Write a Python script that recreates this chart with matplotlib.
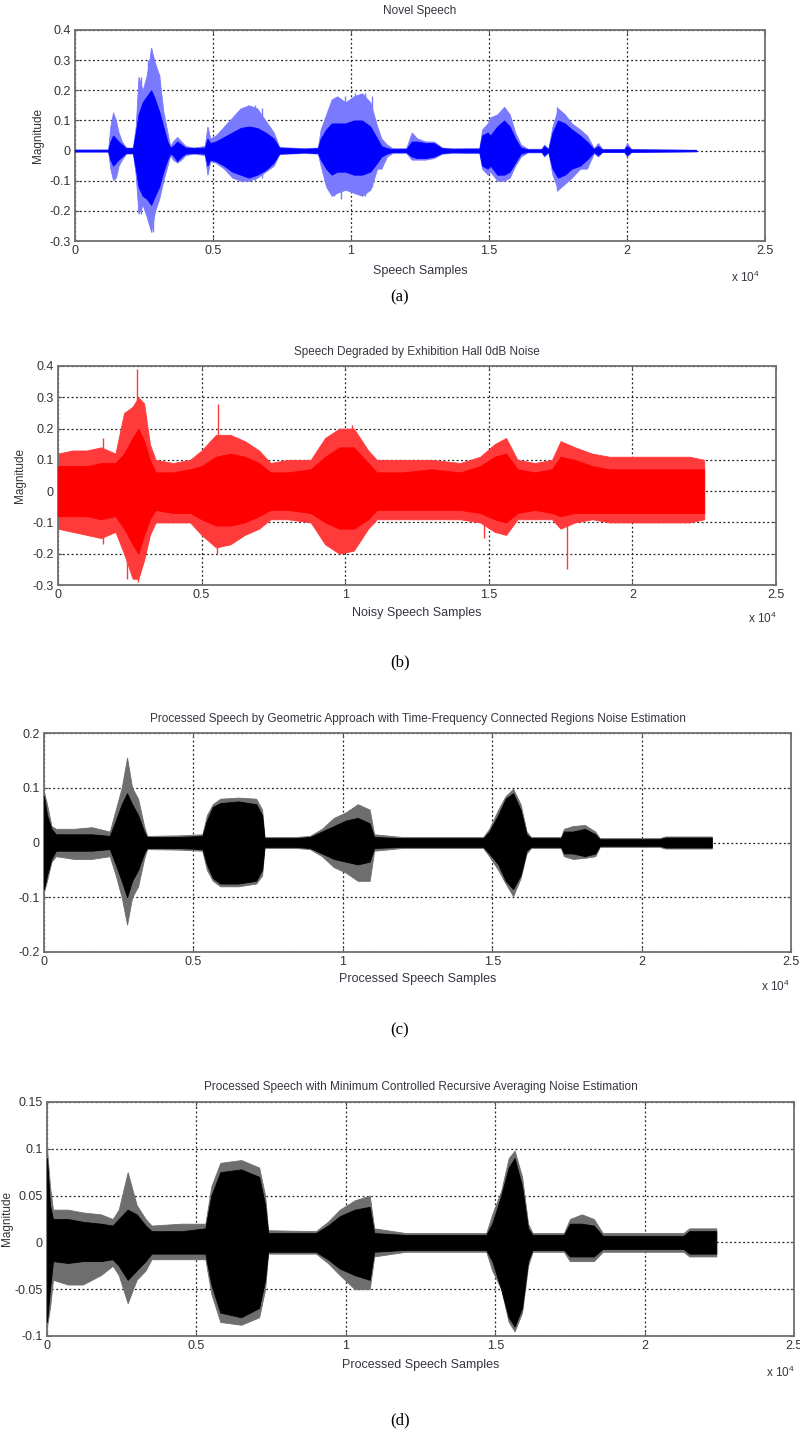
import matplotlib
matplotlib.use("Agg")
import matplotlib.pyplot as plt

plt.rcParams['font.family'] = ['Liberation Sans Narrow', 'Liberation Sans', 'DejaVu Sans']
plt.rcParams['mathtext.default'] = 'regular'

W, H = 800, 1435

# ---------------- data (samples, magnitude envelopes) -------------
a_x = [0, 1200, 1280, 1380, 1480, 1580, 1700, 1850, 2100, 2200, 2300, 2450, 2600, 2760, 2900,
       3050, 3200, 3350, 3450, 3550, 3700, 3850, 4000, 4300, 4700, 4800, 4900, 5100, 5400, 5700,
       6000, 6300, 6600, 6900, 7200, 7400, 7800, 8300, 8800, 8900, 9100, 9300, 9500, 9800, 10100,
       10400, 10700, 10950, 11100, 11300, 11500, 12000, 12200, 12400, 12700, 13000, 13300, 13700,
       14200, 14650, 14750, 14950, 15050, 15300, 15550, 15750, 15950, 16150, 16400, 16900, 17000,
       17150, 17300, 17500, 17750, 18000, 18300, 18550, 18800, 18950, 19100, 19900, 20000, 20150,
       22500]
a_core_hi = [.003, .003, .03, .05, .04, .03, .02, .008, .008, .06, .12, .16, .18, .20, .17,
             .13, .08, .03, .01, .015, .03, .02, .01, .008, .01, .04, .025, .03, .045, .06,
             .075, .08, .075, .06, .04, .01, .008, .006, .008, .04, .07, .09, .09, .09, .10,
             .10, .08, .04, .015, .008, .005, .005, .03, .03, .025, .025, .008, .005,
             .006, .006, .05, .06, .05, .08, .10, .08, .04, .01, .004, .004, .015,
             .004, .06, .10, .09, .07, .05, .03, .005, .015, .004, .004, .015, .004,
             .002]
a_core_lo = [-.003, -.003, -.03, -.05, -.04, -.03, -.02, -.008, -.008, -.06, -.12, -.15, -.16, -.18, -.15,
             -.12, -.07, -.03, -.01, -.015, -.035, -.02, -.01, -.008, -.01, -.05, -.03, -.035, -.05, -.07,
             -.08, -.09, -.08, -.065, -.04, -.01, -.008, -.006, -.008, -.03, -.06, -.08, -.07, -.07, -.08,
             -.08, -.07, -.04, -.02, -.01, -.005, -.005, -.02, -.025, -.025, -.02, -.008, -.005,
             -.006, -.006, -.05, -.06, -.05, -.08, -.08, -.07, -.04, -.01, -.004, -.004, -.015,
             -.004, -.06, -.09, -.08, -.06, -.05, -.03, -.005, -.015, -.004, -.004, -.015, -.004,
             -.002]
a_outer_hi = [.003, .003, .08, .127, .10, .06, .03, .01, .01, .08, .245, .20, .25, .34, .29,
              .25, .13, .06, .015, .03, .045, .03, .015, .01, .015, .08, .04, .05, .08, .11,
              .14, .15, .14, .10, .06, .012, .01, .008, .01, .07, .12, .17, .18, .16, .18,
              .19, .16, .08, .04, .02, .008, .008, .06, .04, .03, .03, .01, .008,
              .008, .008, .07, .09, .11, .12, .145, .12, .06, .02, .006, .006, .02,
              .006, .08, .14, .12, .09, .07, .05, .008, .025, .005, .005, .025, .005,
              .003]
a_outer_lo = [-.003, -.003, -.06, -.098, -.09, -.05, -.03, -.01, -.01, -.08, -.21, -.18, -.22, -.27, -.20,
              -.16, -.10, -.05, -.015, -.03, -.04, -.03, -.015, -.01, -.015, -.08, -.035, -.04, -.06, -.09,
              -.10, -.10, -.09, -.07, -.05, -.012, -.01, -.008, -.01, -.05, -.12, -.15, -.14, -.13, -.14,
              -.15, -.13, -.06, -.06, -.02, -.008, -.008, -.03, -.03, -.03, -.025, -.01, -.008,
              -.008, -.008, -.06, -.08, -.07, -.10, -.10, -.09, -.05, -.02, -.006, -.006, -.02,
              -.006, -.08, -.13, -.11, -.09, -.06, -.06, -.008, -.02, -.005, -.005, -.02, -.005,
              -.003]
a_spike_x = [2390, 2650, 2760, 2820, 3050, 5780, 6030, 6280, 6530, 6780, 9390, 9640, 9770,
             10140, 10510, 10760, 15550, 17450]
a_spike_hi = [0.245, 0.30, 0.34, 0.10, 0.25, 0.10, 0.13, 0.15, 0.15, 0.14, 0.17, 0.08, 0.18,
              0.19, 0.19, 0.18, 0.145, 0.145]
a_spike_lo = [-0.21, -0.15, -0.20, -0.27, -0.12, -0.06, -0.09, -0.10, -0.10, -0.09, -0.15, -0.16,
              -0.12, -0.14, -0.15, -0.12, -0.10, -0.135]

b_x = [0, 500, 1000, 1500, 2000, 2300, 2600, 2800, 3000, 3200, 3400, 4000, 4600, 5000, 5500,
       6000, 6500, 7000, 7400, 8000, 8800, 9300, 9800, 10300, 10800, 11100, 12000, 13000, 14000,
       14700, 15200, 15600, 16000, 16600, 17200, 17500, 18000, 18600, 19200, 20000, 21000, 22000, 22500]
b_core_hi = [.08, .08, .08, .09, .09, .12, .17, .20, .16, .10, .06, .06, .07, .08, .11,
             .12, .11, .09, .06, .06, .07, .11, .14, .14, .09, .06, .06, .07, .06,
             .08, .11, .12, .07, .06, .07, .11, .10, .08, .07, .07, .07, .07, .07]
b_core_lo = [-.08, -.08, -.08, -.09, -.08, -.12, -.17, -.20, -.14, -.09, -.06, -.07, -.07, -.09, -.11,
             -.11, -.10, -.08, -.06, -.06, -.07, -.10, -.12, -.12, -.09, -.06, -.06, -.06, -.06,
             -.07, -.09, -.10, -.07, -.06, -.07, -.08, -.07, -.07, -.07, -.07, -.07, -.07, -.07]
b_outer_hi = [.12, .13, .13, .14, .12, .25, .27, .30, .28, .15, .10, .09, .10, .13, .18,
              .18, .16, .13, .09, .10, .10, .17, .20, .20, .13, .10, .10, .10, .09,
              .11, .15, .17, .10, .09, .10, .16, .14, .12, .11, .11, .11, .11, .10]
b_outer_lo = [-.12, -.13, -.14, -.15, -.13, -.20, -.28, -.28, -.22, -.14, -.10, -.10, -.10, -.14, -.18,
              -.17, -.14, -.12, -.09, -.09, -.10, -.17, -.20, -.19, -.12, -.09, -.09, -.09, -.09,
              -.10, -.13, -.14, -.09, -.09, -.09, -.12, -.10, -.09, -.10, -.10, -.10, -.10, -.09]
b_spike_x = [1570, 2395, 2750, 2785, 5520, 5580, 10240, 14850, 17710]
b_spike_hi = [0.17, 0.25, 0.39, 0.10, 0.10, 0.28, 0.21, 0.05, 0.05]
b_spike_lo = [-0.17, -0.28, -0.10, -0.29, -0.20, -0.10, -0.10, -0.15, -0.25]

c_x = [0, 100, 250, 400, 1000, 1600, 2200, 2400, 2600, 2780, 2950, 3150, 3350, 3450, 4500,
       5300, 5450, 5650, 5900, 6500, 7100, 7300, 7380, 8400, 8900, 9300, 9700, 10100, 10500,
       10900, 11050, 12000, 14700, 14900, 15200, 15450, 15700, 15950, 16150, 16300, 17300,
       17400, 17700, 18100, 18450, 18600, 20600, 20800, 22350]
c_core_hi = [.085, .05, .025, .015, .015, .015, .012, .04, .07, .09, .07, .05, .02, .01, .01,
             .012, .04, .065, .072, .075, .07, .05, .008, .008, .01, .02, .03, .04, .045,
             .035, .01, .008, .008, .02, .05, .08, .09, .06, .015, .008, .008,
             .02, .02, .025, .015, .006, .006, .009, .009]
c_core_lo = [-.085, -.06, -.03, -.015, -.015, -.015, -.012, -.04, -.07, -.10, -.07, -.05, -.02, -.01, -.01,
             -.012, -.04, -.065, -.075, -.075, -.07, -.05, -.008, -.008, -.01, -.02, -.03, -.035, -.04,
             -.035, -.01, -.008, -.008, -.02, -.04, -.07, -.085, -.06, -.015, -.008, -.008,
             -.02, -.02, -.025, -.02, -.006, -.006, -.009, -.009]
c_outer_hi = [.092, .07, .03, .025, .025, .028, .02, .06, .10, .155, .10, .08, .03, .012, .013,
              .015, .05, .07, .08, .082, .08, .06, .01, .01, .012, .025, .045, .055, .07,
              .06, .015, .01, .01, .025, .06, .085, .098, .07, .02, .01, .01,
              .025, .03, .032, .02, .008, .008, .011, .011]
c_outer_lo = [-.09, -.07, -.035, -.025, -.03, -.03, -.025, -.06, -.10, -.15, -.10, -.08, -.03, -.012, -.013,
              -.015, -.05, -.07, -.08, -.08, -.075, -.06, -.01, -.01, -.012, -.025, -.045, -.055, -.07,
              -.07, -.015, -.01, -.01, -.025, -.05, -.075, -.098, -.065, -.02, -.01, -.01,
              -.025, -.03, -.028, -.025, -.008, -.008, -.011, -.011]

d_x = [0, 100, 200, 700, 1200, 1800, 2200, 2400, 2700, 3000, 3300, 3500, 4500, 5300, 5500,
       5800, 6500, 7100, 7300, 7400, 9000, 9400, 9800, 10300, 10800, 10950, 12000, 14700, 14900,
       15200, 15450, 15650, 15900, 16100, 16250, 17300, 17500, 17900, 18300, 18600, 21300, 21500, 22400]
d_core_hi = [.09, .04, .025, .025, .022, .02, .018, .025, .035, .03, .018, .012, .012, .015, .05,
             .075, .078, .07, .04, .01, .01, .018, .028, .035, .038, .01, .008, .008, .02,
             .05, .08, .09, .06, .015, .008, .008, .02, .02, .018, .007, .007, .012, .012]
d_core_lo = [-.085, -.05, -.02, -.022, -.02, -.02, -.018, -.025, -.04, -.03, -.02, -.012, -.012, -.012, -.045,
             -.075, -.08, -.07, -.04, -.01, -.01, -.018, -.028, -.035, -.04, -.01, -.008, -.008, -.02,
             -.05, -.08, -.09, -.07, -.02, -.008, -.008, -.015, -.015, -.015, -.007, -.007, -.012, -.012]
d_outer_hi = [.10, .06, .035, .035, .032, .03, .025, .035, .075, .04, .025, .018, .02, .02, .06,
              .085, .088, .08, .05, .013, .012, .022, .035, .045, .05, .015, .01, .01, .03,
              .055, .09, .098, .07, .02, .01, .01, .025, .03, .025, .01, .01, .015, .015]
d_outer_lo = [-.09, -.07, -.04, -.045, -.045, -.035, -.025, -.035, -.065, -.04, -.03, -.018, -.018, -.018, -.055,
              -.085, -.088, -.08, -.05, -.012, -.012, -.022, -.035, -.05, -.05, -.015, -.01, -.01, -.03,
              -.05, -.085, -.095, -.075, -.025, -.01, -.01, -.02, -.02, -.02, -.01, -.01, -.015, -.015]

x_ticks = [0, 5000, 10000, 15000, 20000, 25000]
x_labels = ['0', '0.5', '1', '1.5', '2', '2.5']

panels = [
    dict(box=(75, 30, 765, 241), ylim=(-0.3, 0.4),
         yt=[-0.3, -0.2, -0.1, 0, 0.1, 0.2, 0.3, 0.4],
         ylab=['-0.3', '-0.2', '-0.1', '0', '0.1', '0.2', '0.3', '0.4'],
         x=a_x, ch=a_core_hi, cl=a_core_lo, oh=a_outer_hi, ol=a_outer_lo,
         core='#0000ff', outer='#7a7aff',
         spikes=(a_spike_x, a_spike_lo, a_spike_hi),
         title='Novel Speech', title_y=11, xlabel='Speech Samples', xlabel_y=271,
         x10=(745, 277), ylabel_x=38, tag='(a)', tag_y=297),
    dict(box=(58, 366, 776, 585), ylim=(-0.3, 0.4),
         yt=[-0.3, -0.2, -0.1, 0, 0.1, 0.2, 0.3, 0.4],
         ylab=['-0.3', '-0.2', '-0.1', '0', '0.1', '0.2', '0.3', '0.4'],
         x=b_x, ch=b_core_hi, cl=b_core_lo, oh=b_outer_hi, ol=b_outer_lo,
         core='#ff0000', outer='#ff3a3a',
         spikes=(b_spike_x, b_spike_lo, b_spike_hi),
         title='Speech Degraded by Exhibition Hall 0dB Noise', title_y=352,
         xlabel='Noisy Speech Samples', xlabel_y=613, x10=(762, 618), ylabel_x=20,
         tag='(b)', tag_y=662),
    dict(box=(44, 733, 791, 952), ylim=(-0.2, 0.2),
         yt=[-0.2, -0.1, 0, 0.1, 0.2], ylab=['-0.2', '-0.1', '0', '0.1', '0.2'],
         x=c_x, ch=c_core_hi, cl=c_core_lo, oh=c_outer_hi, ol=c_outer_lo,
         core='#000000', outer='#6e6e6e', spikes=None,
         title='Processed Speech by Geometric Approach with Time-Frequency Connected Regions Noise Estimation',
         title_y=719, xlabel='Processed Speech Samples', xlabel_y=979, x10=(775, 986),
         ylabel_x=None, tag='(c)', tag_y=1030),
    dict(box=(47, 1102, 794, 1336), ylim=(-0.1, 0.15),
         yt=[-0.1, -0.05, 0, 0.05, 0.1, 0.15],
         ylab=['-0.1', '-0.05', '0', '0.05', '0.1', '0.15'],
         x=d_x, ch=d_core_hi, cl=d_core_lo, oh=d_outer_hi, ol=d_outer_lo,
         core='#000000', outer='#6e6e6e', spikes=None,
         title='Processed Speech with Minimum Controlled Recursive Averaging Noise Estimation',
         title_y=1087, xlabel='Processed Speech Samples', xlabel_y=1365, x10=(780, 1372),
         ylabel_x=7, tag='(d)', tag_y=1420),
]

fig = plt.figure(figsize=(W / 100, H / 100), dpi=100)
fig.patch.set_facecolor('white')

txt_col = '#3a3340'
fs = 9

for i, p in enumerate(panels):
    l, t, r, b = p['box']
    ax = fig.add_axes([l / W, 1 - b / H, (r - l) / W, (b - t) / H])
    ax.set_xlim(0, 25000)
    ax.set_ylim(*p['ylim'])
    ax.set_axisbelow(True)
    ax.grid(True, color='#222222', linestyle=(0, (1.5, 2.0)), linewidth=0.9)
    ax.fill_between(p['x'], p['ol'], p['oh'], color=p['outer'], linewidth=0.6, zorder=2)
    ax.fill_between(p['x'], p['cl'], p['ch'], color=p['core'], linewidth=0.6, zorder=3)
    if p['spikes'] is not None:
        sx, slo, shi = p['spikes']
        ax.vlines(sx, slo, shi, color=p['outer'], linewidth=1.0, zorder=2)
    ax.set_xticks(x_ticks)
    ax.set_xticklabels(x_labels)
    ax.set_yticks(p['yt'])
    ax.set_yticklabels(p['ylab'])
    ax.tick_params(direction='in', length=3, width=0.8, top=True, right=True,
                   labelsize=fs, labelcolor='#333333', color='#555555', pad=3)
    for s in ax.spines.values():
        s.set_color('#707070')
        s.set_linewidth(1.3)
    cx = (l + r) / 2
    fig.text(cx / W, 1 - p['title_y'] / H, p['title'], ha='center', va='center',
             fontsize=8.5, color=txt_col)
    fig.text(cx / W, 1 - p['xlabel_y'] / H, p['xlabel'], ha='center', va='center',
             fontsize=fs, color=txt_col)
    fig.text(p['x10'][0] / W, 1 - p['x10'][1] / H, r'x 10$^{4}$', ha='center', va='center',
             fontsize=fs - 0.5, color=txt_col)
    if p['ylabel_x'] is not None:
        fig.text(p['ylabel_x'] / W, 1 - ((t + b) / 2) / H, 'Magnitude', rotation=90,
                 ha='center', va='center', fontsize=fs - 0.5, color='#333333')
    fig.text(400 / W, 1 - p['tag_y'] / H, p['tag'], ha='center', va='center',
             fontsize=12, family='Liberation Serif', color='black')

fig.savefig('out.png', dpi=100)
